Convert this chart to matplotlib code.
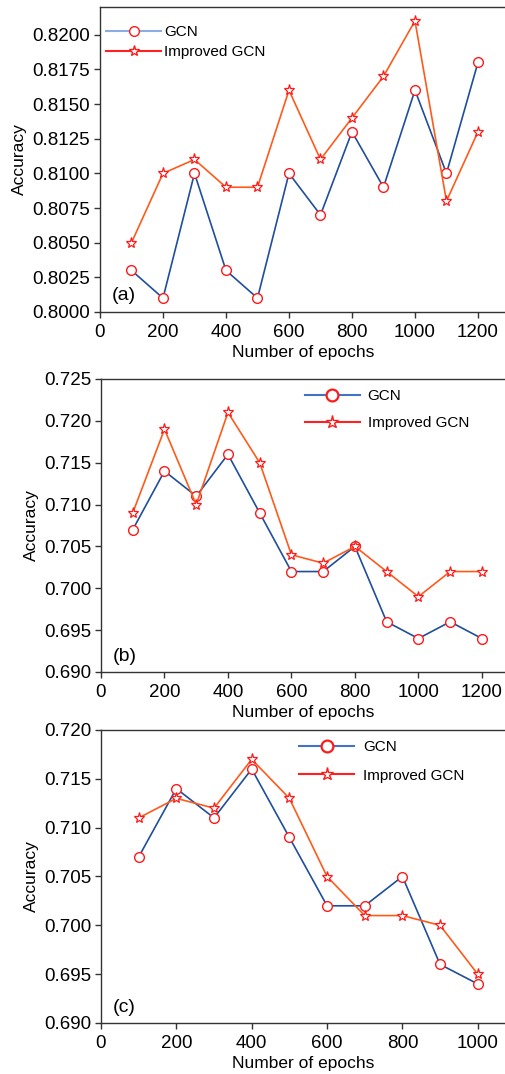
import matplotlib
matplotlib.use("Agg")
import matplotlib.pyplot as plt
from matplotlib.lines import Line2D
from matplotlib.ticker import FormatStrFormatter, MultipleLocator

plt.rcParams['font.family'] = ['Liberation Sans', 'DejaVu Sans']

# ---- data ----
epochs_ab = [100, 200, 300, 400, 500, 600, 700, 800, 900, 1000, 1100, 1200]
epochs_c = [100, 200, 300, 400, 500, 600, 700, 800, 900, 1000]

gcn_a = [0.8030, 0.8010, 0.8100, 0.8030, 0.8010, 0.8100, 0.8070, 0.8130, 0.8090, 0.8160, 0.8100, 0.8180]
imp_a = [0.8050, 0.8100, 0.8110, 0.8090, 0.8090, 0.8160, 0.8110, 0.8140, 0.8170, 0.8210, 0.8080, 0.8130]

gcn_b = [0.707, 0.714, 0.711, 0.716, 0.709, 0.702, 0.702, 0.705, 0.696, 0.694, 0.696, 0.694]
imp_b = [0.709, 0.719, 0.710, 0.721, 0.715, 0.704, 0.703, 0.705, 0.702, 0.699, 0.702, 0.702]

gcn_c = [0.707, 0.714, 0.711, 0.716, 0.709, 0.702, 0.702, 0.705, 0.696, 0.694]
imp_c = [0.711, 0.713, 0.712, 0.717, 0.713, 0.705, 0.701, 0.701, 0.700, 0.695]

series_labels = ["GCN", "Improved GCN"]
panel_labels = ["(a)", "(b)", "(c)"]

GCN_LINE = "#1f4e9c"
IMP_LINE = "#ff5a1a"
MK_EDGE = "#ff1a1a"

W, H = 506, 1074
fig = plt.figure(figsize=(W / 100, H / 100), dpi=100)

def px_axes(left, top, bottom):
    return fig.add_axes([left / W, 1 - bottom / H, 1 - left / W, (bottom - top) / H])

axa = px_axes(100, 7, 312)
axb = px_axes(101, 379, 672)
axc = px_axes(101, 730, 1023)

panels = [
    (axa, epochs_ab, gcn_a, imp_a, (0, 1289), (0.8, 0.822), 0.0025, "%.4f",
     dict(legcol=("#8aaee0", "#ff2020"), leg_xy=(106, 25), spacing=0.4, big=False, tp=0.2)),
    (axb, epochs_ab, gcn_b, imp_b, (0, 1276), (0.690, 0.725), 0.005, "%.3f",
     dict(legcol=("#4472c4", "#ff2020"), leg_xy=(305, 389), spacing=0.85, big=True, tp=0.5)),
    (axc, epochs_c, gcn_c, imp_c, (0, 1075), (0.690, 0.720), 0.005, "%.3f",
     dict(legcol=("#4472c4", "#ff2020"), leg_xy=(299, 740), spacing=0.95, big=True, tp=0.6)),
]

for i, (ax, x, g, imp, xl, yl, ystep, fmt, lg) in enumerate(panels):
    ax.plot(x, g, color=GCN_LINE, lw=1.2, marker='o', ms=7, mfc='white',
            mec=MK_EDGE, mew=1.0, zorder=3)
    ax.plot(x, imp, color=IMP_LINE, lw=1.2, marker='*', ms=8, mfc='white',
            mec=MK_EDGE, mew=0.9, zorder=4)
    ax.set_xlim(*xl)
    ax.set_ylim(*yl)
    ax.xaxis.set_major_locator(MultipleLocator(200))
    ax.yaxis.set_major_locator(MultipleLocator(ystep))
    ax.yaxis.set_major_formatter(FormatStrFormatter(fmt))
    ax.spines['right'].set_visible(False)
    for s in ['left', 'bottom', 'top']:
        ax.spines[s].set_linewidth(1.0)
        ax.spines[s].set_color('#333333')
    ax.tick_params(direction='out', length=4, width=1.0, labelsize=13.5, pad=3,
                   top=False, right=False, color='#333333')
    ax.tick_params(axis='x', pad=4.5)
    ax.set_xlabel("Number of epochs", fontsize=12.5, labelpad=3)
    ax.set_ylabel("Accuracy", fontsize=12.5, labelpad=4)
    ax.text(0.03, 0.025, panel_labels[i], transform=ax.transAxes, fontsize=14,
            ha='left', va='bottom')

    c1, c2 = lg['legcol']
    msz = 8.5 if lg['big'] else 7
    mw = 1.6 if lg['big'] else 1.0
    h1 = Line2D([], [], color=c1, lw=1.5, marker='o', ms=msz, mfc='white', mec=MK_EDGE, mew=mw)
    h2 = Line2D([], [], color=c2, lw=1.5, marker='*', ms=msz + 1, mfc='white', mec=MK_EDGE, mew=1.0)
    lx, ly = lg['leg_xy']
    ax.legend([h1, h2], series_labels, loc='upper left',
              bbox_to_anchor=(lx / W, 1 - ly / H), bbox_transform=fig.transFigure,
              frameon=False, fontsize=11, handlelength=3.6, handletextpad=lg['tp'],
              borderpad=0, borderaxespad=0, labelspacing=lg['spacing'])

fig.savefig("out.png", dpi=100)
